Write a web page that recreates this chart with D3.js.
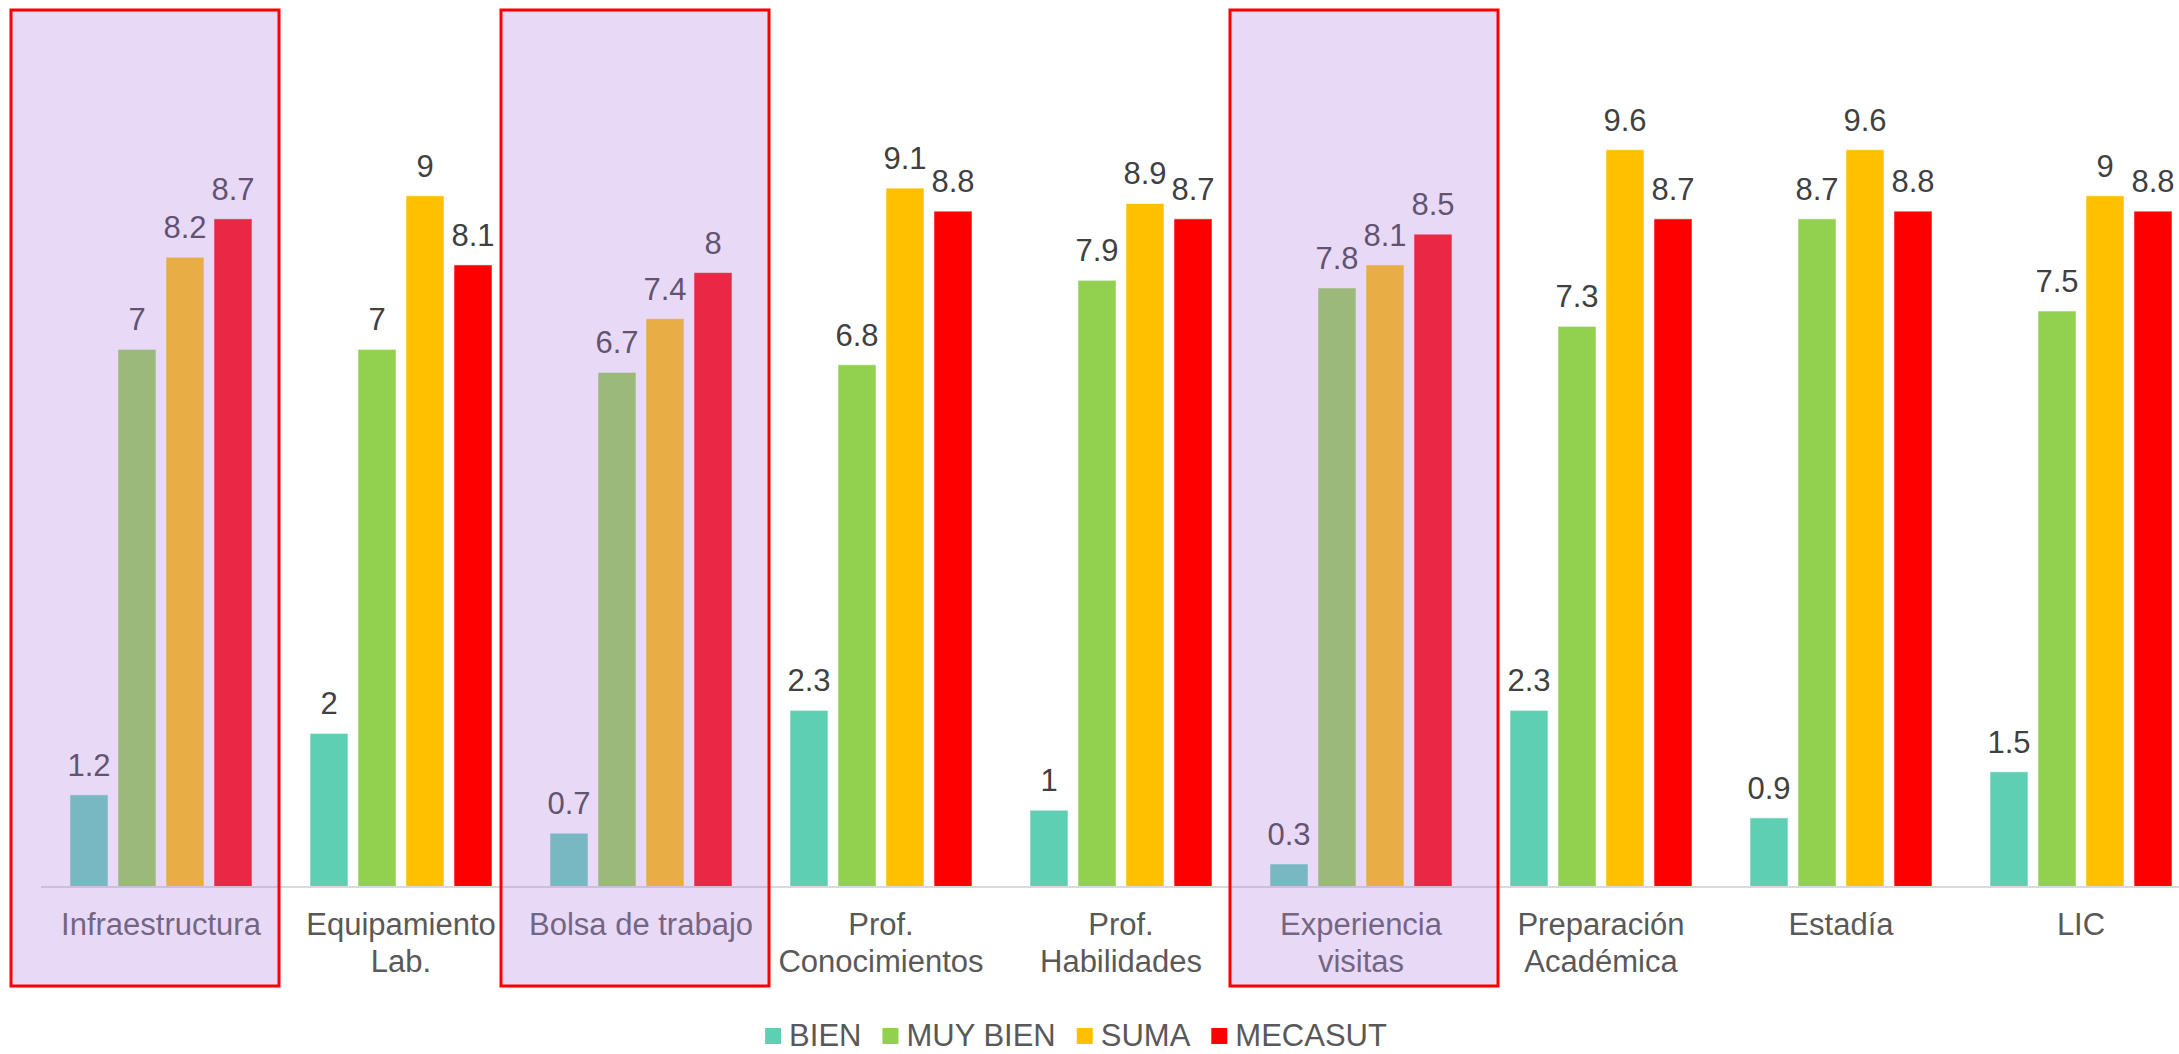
<!DOCTYPE html>
<html>
<head>
<meta charset="utf-8">
<script src="https://cdn.jsdelivr.net/npm/d3@7/dist/d3.min.js"></script>
<style>
  html, body { margin: 0; padding: 0; background: #ffffff; overflow: hidden; }
  svg { display: block; font-family: "Liberation Sans", Arial, sans-serif; }
</style>
</head>
<body>
<svg id="chart" width="2179" height="1054"></svg>
<script>
// ---------- data ----------
const categories = [
  "Infraestructura", "Equipamiento Lab.", "Bolsa de trabajo",
  "Prof. Conocimientos", "Prof. Habilidades", "Experiencia visitas",
  "Preparación Académica", "Estadía", "LIC"
];
const tickLabelLines = [
  ["Infraestructura"], ["Equipamiento", "Lab."], ["Bolsa de trabajo"],
  ["Prof.", "Conocimientos"], ["Prof.", "Habilidades"], ["Experiencia", "visitas"],
  ["Preparación", "Académica"], ["Estadía"], ["LIC"]
];
const seriesNames = ["BIEN", "MUY BIEN", "SUMA", "MECASUT"];
const bien    = [1.2, 2, 0.7, 2.3, 1, 0.3, 2.3, 0.9, 1.5];
const muyBien = [7, 7, 6.7, 6.8, 7.9, 7.8, 7.3, 8.7, 7.5];
const suma    = [8.2, 9, 7.4, 9.1, 8.9, 8.1, 9.6, 9.6, 9];
const mecasut = [8.7, 8.1, 8, 8.8, 8.7, 8.5, 8.7, 8.8, 8.8];
const seriesColors = ["#5fcfb3", "#92d050", "#ffc000", "#ff0000"];
// highlighted categories (annotation boxes) and their horizontal shift vs. the band
const highlighted = ["Infraestructura", "Bolsa de trabajo", "Experiencia visitas"];
const highlightShift = [-16, -6, 3];

// ---------- layout ----------
const W = 2179, H = 1054;
const plotLeft = 41, plotRight = 2201, baseY = 887, topY = 119;
const svg = d3.select("#chart");

const seriesValues = [bien, muyBien, suma, mecasut];
const rows = categories.map((c, i) => ({
  cat: c,
  vals: seriesNames.map((s, k) => ({ series: s, k, value: seriesValues[k][i] }))
}));

const x0 = d3.scaleBand().domain(categories).range([plotLeft, plotRight]).paddingInner(0).paddingOuter(0);
const x1 = d3.scaleBand().domain(seriesNames).range([29, 211]).paddingInner(10 / 48).paddingOuter(0);
const y = d3.scaleLinear().domain([0, 10]).range([baseY, topY]);

// ---------- bars ----------
const groups = svg.append("g").selectAll("g").data(rows).join("g")
  .attr("transform", d => `translate(${x0(d.cat)},0)`);

groups.selectAll("rect").data(d => d.vals).join("rect")
  .attr("x", d => x1(d.series))
  .attr("width", x1.bandwidth())
  .attr("y", d => y(d.value))
  .attr("height", d => y(0) - y(d.value))
  .attr("fill", d => seriesColors[d.k])
  .attr("stroke", "#ffffff")
  .attr("stroke-opacity", 0.55)
  .attr("stroke-width", 1);

groups.selectAll("text").data(d => d.vals).join("text")
  .attr("x", d => x1(d.series) + x1.bandwidth() / 2)
  .attr("y", d => y(d.value) - 19)
  .attr("text-anchor", "middle")
  .attr("font-size", 31)
  .attr("fill", "#404040")
  .text(d => d.value);

// ---------- category axis ----------
const axis = d3.axisBottom(x0).tickSize(0).tickFormat(() => "");
const axisG = svg.append("g").attr("transform", `translate(0,${baseY})`).call(axis);
axisG.select(".domain").attr("stroke", "#d9d9d9").attr("stroke-width", 2)
  .attr("d", `M${plotLeft},0H${plotRight}`);
axisG.selectAll(".tick text").remove();
axisG.selectAll(".tick").each(function(d, i) {
  const t = d3.select(this).append("text")
    .attr("text-anchor", "middle")
    .attr("font-size", 31)
    .attr("fill", "#595959")
    .attr("y", 48);
  tickLabelLines[i].forEach((line, j) => {
    t.append("tspan").attr("x", 0).attr("dy", j === 0 ? 0 : 37).text(line);
  });
});

// ---------- legend ----------
const legendCenter = 1076, legendY = 1046;
const legend = svg.append("g");
const items = legend.selectAll("g").data(seriesNames).join("g");
items.append("rect").attr("width", 16).attr("height", 16)
  .attr("y", legendY - 18).attr("fill", (d, i) => seriesColors[i]);
items.append("text").attr("x", 24).attr("y", legendY)
  .attr("font-size", 31).attr("fill", "#595959").text(d => d);
let cursor = 0;
const widths = [];
items.each(function() {
  const tw = d3.select(this).select("text").node().getComputedTextLength();
  widths.push(24 + tw);
});
const totalW = d3.sum(widths) + 21 * (widths.length - 1);
cursor = legendCenter - totalW / 2;
items.attr("transform", (d, i) => {
  const tx = cursor;
  cursor += widths[i] + 21;
  return `translate(${tx},0)`;
});

// ---------- highlight boxes (overlay on top) ----------
const boxW = 268;
svg.append("g").selectAll("rect").data(highlighted).join("rect")
  .attr("x", (d, i) => x0(d) + x0.bandwidth() / 2 + highlightShift[i] - boxW / 2)
  .attr("y", 10)
  .attr("width", boxW)
  .attr("height", 976)
  .attr("fill", "rgb(178,133,230)")
  .attr("fill-opacity", 0.3)
  .attr("stroke", "#ff0000")
  .attr("stroke-width", 3);
</script>
</body>
</html>
